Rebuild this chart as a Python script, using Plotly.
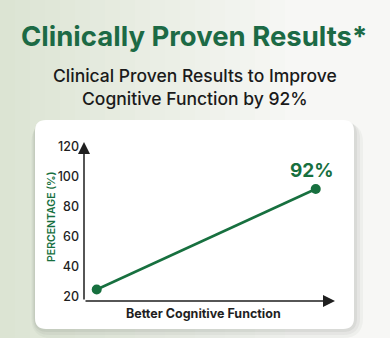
import plotly.graph_objects as go

# ---- data ----
categories = ["Before", "After"]
values = [25, 92]
point_labels = ["", "92%"]
y_ticks = [20, 40, 60, 80, 100, 120]
title_text = "Clinically Proven Results*"
subtitle_lines = ["Clinical Proven Results to Improve", "Cognitive Function by 92%"]
x_title = "Better Cognitive Function"
y_title = "PERCENTAGE (%)"

W, H = 390, 338
L, R, T, B = 84, 335, 142, 301   # plot area in pixels
XR = [-0.058, 1.088]
YR = [17.33, 123.33]

def px(p):
    return (p - L) / (R - L)

def py(p):
    return (B - p) / (B - T)

GREEN = "#17703f"
DARK = "#1f1f1f"

fig = go.Figure()
fig.add_trace(go.Scatter(
    x=[0, 1], y=values, mode="lines+markers",
    line=dict(color=GREEN, width=2.5),
    marker=dict(color=GREEN, size=10),
    hoverinfo="skip", cliponaxis=False,
))

shapes = []
# background gradient
n = 26
c0 = (0xdc, 0xe4, 0xd3)
c1 = (0xf7, 0xf7, 0xf5)
for i in range(n):
    t = i / (n - 1)
    c = tuple(int(round(c0[k] + (c1[k] - c0[k]) * min(1, t * 1.3))) for k in range(3))
    x0 = W * i / n
    x1 = W * (i + 1) / n + 1
    shapes.append(dict(type="rect", xref="paper", yref="paper",
                       x0=px(x0), x1=px(x1), y0=py(H), y1=py(0),
                       fillcolor="rgb(%d,%d,%d)" % c, line=dict(width=0), layer="below"))

def rrect(x0, y0, x1, y1, r):
    X = lambda p: px(p)
    Y = lambda p: py(p)
    d = (f"M {X(x0+r)},{Y(y0)} L {X(x1-r)},{Y(y0)} Q {X(x1)},{Y(y0)} {X(x1)},{Y(y0+r)} "
         f"L {X(x1)},{Y(y1-r)} Q {X(x1)},{Y(y1)} {X(x1-r)},{Y(y1)} "
         f"L {X(x0+r)},{Y(y1)} Q {X(x0)},{Y(y1)} {X(x0)},{Y(y1-r)} "
         f"L {X(x0)},{Y(y0+r)} Q {X(x0)},{Y(y0)} {X(x0+r)},{Y(y0)} Z")
    return d

# shadow
for k, op in [(9, 0.05), (6, 0.06), (3, 0.08)]:
    shapes.append(dict(type="path", xref="paper", yref="paper",
                       path=rrect(35 - k * 0.4, 120 + k * 0.3, 354 + k, 329 + k, 11 + k),
                       fillcolor="rgba(80,90,80,%s)" % op, line=dict(width=0), layer="below"))
# card
shapes.append(dict(type="path", xref="paper", yref="paper",
                   path=rrect(35, 120, 354, 329, 11),
                   fillcolor="#ffffff", line=dict(width=0), layer="below"))

annotations = [
    # axes with arrows
    dict(x=XR[0], y=YR[1], ax=XR[0], ay=YR[0], xref="x", yref="y", axref="x", ayref="y",
         showarrow=True, arrowhead=2, arrowsize=1.6, arrowwidth=1.5, arrowcolor=DARK, text=""),
    dict(x=XR[1], y=YR[0], ax=XR[0], ay=YR[0], xref="x", yref="y", axref="x", ayref="y",
         showarrow=True, arrowhead=2, arrowsize=1.6, arrowwidth=1.5, arrowcolor=DARK, text=""),
    # titles
    dict(text=title_text, xref="paper", yref="paper", x=px(194), y=py(36),
         showarrow=False, xanchor="center", yanchor="middle",
         font=dict(family="Inter", size=27.5, color="#1c6a45", weight=700)),
    dict(text=subtitle_lines[0], xref="paper", yref="paper", x=px(195), y=py(75),
         showarrow=False, xanchor="center", yanchor="middle",
         font=dict(family="Inter", size=17.5, color="#1a1a1a", weight=500)),
    dict(text=subtitle_lines[1], xref="paper", yref="paper", x=px(195), y=py(98),
         showarrow=False, xanchor="center", yanchor="middle",
         font=dict(family="Inter", size=17.5, color="#1a1a1a", weight=500)),
    dict(text=x_title, xref="paper", yref="paper", x=px(203.5), y=py(313),
         showarrow=False, xanchor="center", yanchor="middle",
         font=dict(family="Inter", size=12.5, color=DARK, weight=700)),
    dict(text=y_title, xref="paper", yref="paper", x=px(51), y=py(217), textangle=-90,
         showarrow=False, xanchor="center", yanchor="middle",
         font=dict(family="Inter", size=10.5, color=GREEN, weight=600)),
]
for i, (lab, v) in enumerate(zip(point_labels, values)):
    if lab:
        annotations.append(dict(text=lab, x=i, y=v, xref="x", yref="y",
                                showarrow=False, yshift=19, xshift=-4,
                                font=dict(family="Inter", size=19, color=GREEN, weight=700)))

fig.update_layout(
    width=W, height=H,
    margin=dict(l=L, r=W - R, t=T, b=H - B, pad=0),
    paper_bgcolor="#eef1ea", plot_bgcolor="rgba(0,0,0,0)",
    showlegend=False,
    shapes=shapes, annotations=annotations,
    xaxis=dict(range=XR, showgrid=False, zeroline=False, showticklabels=False,
               showline=False, fixedrange=True),
    yaxis=dict(range=YR, tickvals=y_ticks, ticktext=[str(t) for t in y_ticks],
               showgrid=False, zeroline=False, showline=False, ticks="",
               tickfont=dict(family="Inter", size=12.5, color=DARK, weight=500),
               ticklabelstandoff=4, fixedrange=True),
)

fig.write_html("out.html", config={"displayModeBar": False})
